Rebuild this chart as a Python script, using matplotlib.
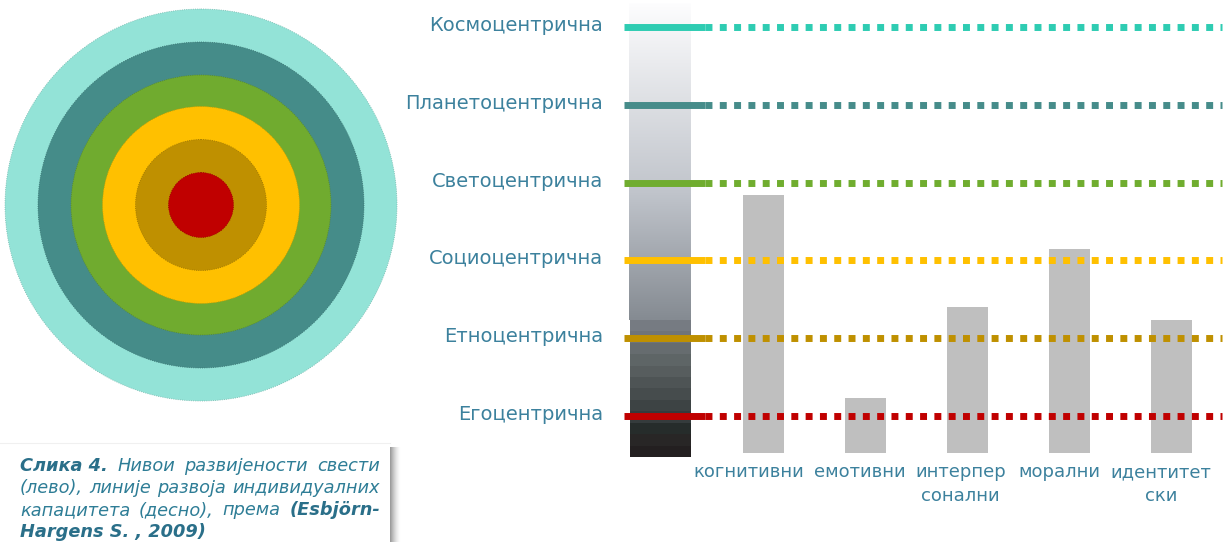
import matplotlib
matplotlib.use("Agg")
import matplotlib.pyplot as plt
import numpy as np
from matplotlib.patches import Circle, Rectangle
from matplotlib.colors import LinearSegmentedColormap, ListedColormap, to_rgb

# Levels of consciousness, from the lowest to the highest
levels = ["Егоцентрична", "Етноцентрична", "Социоцентрична",
          "Светоцентрична", "Планетоцентрична", "Космоцентрична"]
level_values = [1, 2, 3, 4, 5, 6]
level_colors = ["#C00000", "#BF9000", "#FFC000", "#70AD2F", "#468C8A", "#2ECCB2"]

# Concentric rings (inner to outer)
ring_radii = [32.5, 65.5, 98.5, 130, 163, 196]
ring_colors = ["#C00000", "#BF9000", "#FFC000", "#70AB2F", "#458C89", "#93E3D7"]

# Lines of development of individual capacities and the level each reaches
capacities = ["когнитивни", "емотивни", "интерпер\nсонални", "морални", "идентитет\nски"]
capacity_levels = [3.84, 1.23, 2.40, 3.15, 2.23]
bar_base = 0.52

caption_lines = [
    [("Слика 4.", True), ("Нивои", False), ("развијености", False), ("свести", False)],
    [("(лево),", False), ("линије", False), ("развоја", False), ("индивидуалних", False)],
    [("капацитета", False), ("(десно),", False), ("према", False), ("(Esbjörn-", True)],
    [("Hargens S. , 2009)", True)],
]

W, H = 1225, 542
fig = plt.figure(figsize=(W / 100, H / 100), dpi=100)
fig.patch.set_facecolor("white")

# ---- background layer in pixel units: rings and caption ----
bg = fig.add_axes([0, 0, 1, 1])
bg.set_xlim(0, W)
bg.set_ylim(H, 0)
bg.axis("off")

cx, cy = 201, 205
for r, c in sorted(zip(ring_radii, ring_colors), reverse=True):
    edge = tuple(v * 0.8 for v in to_rgb(c))
    bg.add_patch(Circle((cx, cy), r, facecolor=c, edgecolor=edge,
                        linewidth=0.6, linestyle=":", zorder=2))

# caption box with a soft shadow on its right side
bg.add_patch(Rectangle((0, 443), 390, 110, facecolor="white",
                       edgecolor="none", zorder=3))
bg.plot([0, 390], [442.5, 442.5], color="#F0F0F0", lw=0.8, zorder=3)
shadow = np.ones((1, 40, 4))
fade = np.linspace(0, 1, 40)
shadow[0, :, :3] = 0.45
shadow[0, :, 3] = (1 - fade) ** 1.6 * 0.75
bg.imshow(shadow, extent=(390, 401, H, 447), aspect="auto",
          interpolation="bilinear", zorder=2)

text_color = "#3C819D"
cap_color = "#2E7D96"
cap_bold = "#2A6F89"
renderer = fig.canvas.get_renderer()
cap_size = 12.8
baselines = [471, 493, 515, 537]
x_left, x_right = 20, 380
for pieces, yb in zip(caption_lines, baselines):
    items = []
    for word, bold in pieces:
        t = bg.text(0, yb, word, fontsize=cap_size, style="italic",
                    weight="bold" if bold else "normal",
                    color=cap_bold if bold else cap_color,
                    ha="left", va="baseline", zorder=4)
        items.append(t)
    widths = [t.get_window_extent(renderer).width for t in items]
    if len(items) > 1:
        gap = (x_right - x_left - sum(widths)) / (len(items) - 1)
    else:
        gap = 0
    x = x_left
    for t, w in zip(items, widths):
        t.set_x(x)
        x += w + gap

# ---- chart layer: levels on y, capacities on x ----
ax = fig.add_axes([600 / W, 0, 625 / W, 1])
ax.axis("off")
px_per_level = 77.8
x0_px, step_px = 763.5, 102.0


def lx(px):
    return (px - x0_px) / step_px


def ly(py):
    return 1 + (416 - py) / px_per_level


# gradient column: smooth upper part
top_cmap = LinearSegmentedColormap.from_list(
    "col", [(0.0, "#FDFDFE"), (0.6, "#C0C4CB"), (1.0, "#858B92")])
grad = np.linspace(0, 1, 256).reshape(-1, 1)
ax.imshow(grad, cmap=top_cmap, extent=(lx(629), lx(691), ly(320), ly(3)),
          aspect="auto", interpolation="bilinear", origin="upper", zorder=1)
# stepped lower part
band_colors = ["#767B82", "#6F7479", "#666C6F", "#5E6566", "#575D5E", "#4E5455",
               "#464C4D", "#3D4344", "#353B3C", "#262C2B", "#282626", "#231F20"]
bands = np.arange(len(band_colors)).reshape(-1, 1)
ax.imshow(bands, cmap=ListedColormap(band_colors),
          extent=(lx(630), lx(691), ly(457), ly(320)),
          aspect="auto", interpolation="nearest", origin="upper", zorder=1)

# capacity bars
xpos = np.arange(len(capacities))
ax.bar(xpos, np.array(capacity_levels) - bar_base, bottom=bar_base,
       width=0.40, color="#BFBFBF", zorder=2)

# level lines: solid start, then square dots
for lvl, name, c in zip(level_values, levels, level_colors):
    ax.plot([lx(624), lx(705)], [lvl, lvl], color=c, lw=5.0,
            solid_capstyle="butt", zorder=3)
    ax.plot([lx(705), lx(1222)], [lvl, lvl], color=c, lw=5.0,
            dashes=(1.0, 1.06), dash_capstyle="butt", zorder=3)
    ax.text(lx(603), lvl + 0.02, name, ha="right", va="center",
            fontsize=14, color=text_color, zorder=4)

# capacity names under the bars (nudged left of each bar)
label_shift = [-0.14, -0.06, -0.07, -0.10, -0.10]
for x, name, dx in zip(xpos, capacities, label_shift):
    for j, part in enumerate(name.split("\n")):
        ax.text(x + dx, ly(477 + 24 * j), part, ha="center", va="baseline",
                fontsize=13, color=text_color, zorder=4)

ax.set_xlim(lx(600), lx(W))
ax.set_ylim(ly(H), ly(0))

fig.savefig("out.png", dpi=100, facecolor="white")
